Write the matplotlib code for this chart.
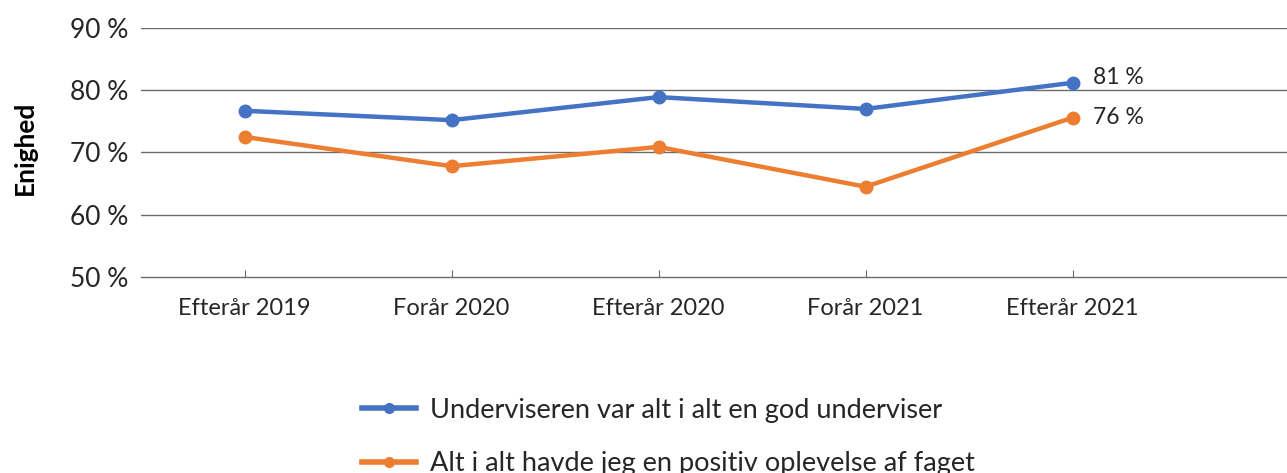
import matplotlib.pyplot as plt
from matplotlib.lines import Line2D

plt.rcParams['font.family'] = ['Lato', 'DejaVu Sans']

# data
categories = ['Efterår 2019', 'Forår 2020', 'Efterår 2020', 'Forår 2021', 'Efterår 2021']
underviser = [76.7, 75.2, 78.9, 77.0, 81.2]
oplevelse = [72.5, 67.8, 70.9, 64.5, 75.6]
series_names = ['Underviseren var alt i alt en god underviser',
                'Alt i alt havde jeg en positiv oplevelse af faget']
yticks = [50, 60, 70, 80, 90]

blue = '#4472C4'
orange = '#ED7D31'
grid_col = '#6b6b6b'
txt_col = '#262626'

fig = plt.figure(figsize=(12.87, 4.73), dpi=100)
ax = fig.add_axes([141 / 1287, 1 - 277 / 473, 1 - 141 / 1287, (277 - 28) / 473])

x = list(range(len(categories)))
ax.plot(x, underviser, color=blue, lw=3.2, marker='o', ms=9, zorder=3)
ax.plot(x, oplevelse, color=orange, lw=3.2, marker='o', ms=9, zorder=3)

ax.set_ylim(50, 90)
ax.set_xlim(-0.5, -0.5 + (1287 - 141) / 207)
ax.set_yticks(yticks)
ax.set_yticklabels([f'{v} %' for v in yticks])
ax.set_xticks(x)
ax.set_xticklabels(categories)

for v in yticks[1:]:
    ax.axhline(v, color=grid_col, lw=1, zorder=1)

for s in ['top', 'right', 'left']:
    ax.spines[s].set_visible(False)
ax.spines['bottom'].set_color(grid_col)
ax.spines['bottom'].set_linewidth(1)

ax.tick_params(axis='y', length=0, pad=9, labelsize=19, labelcolor=txt_col)
ax.tick_params(axis='x', direction='in', length=5, color=grid_col, pad=15,
               labelsize=17, labelcolor=txt_col)

# end labels
ax.annotate(f'{round(underviser[-1])} %', (x[-1], underviser[-1]), xytext=(15, 4),
            textcoords='offset points', ha='left', va='center', fontsize=16.5, color=txt_col)
ax.annotate(f'{round(oplevelse[-1])} %', (x[-1], oplevelse[-1]), xytext=(15, 0),
            textcoords='offset points', ha='left', va='center', fontsize=16.5, color=txt_col)

fig.text(25 / 1287, 1 - 148 / 473, 'Enighed', rotation=90, ha='center', va='center',
         fontsize=19, fontweight='bold', color='black')

handles = [Line2D([], [], color=blue, lw=4, marker='o', ms=7),
           Line2D([], [], color=orange, lw=4, marker='o', ms=7)]
fig.legend(handles, series_names, loc='upper left', bbox_to_anchor=(351 / 1287, 1 - 387 / 473),
           frameon=False, fontsize=19.5, handlelength=2.0, handletextpad=0.5,
           labelspacing=1.05, labelcolor=txt_col, borderaxespad=0)

fig.savefig('out.png', dpi=100)
